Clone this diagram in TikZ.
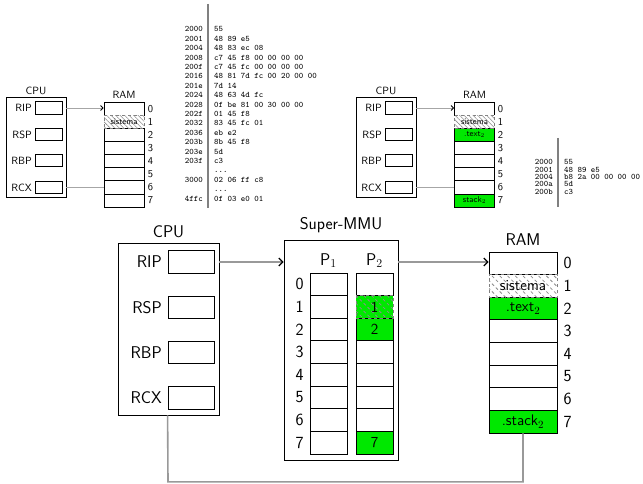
\documentclass[tikz,border=0pt]{standalone}
\usepackage{fontspec}
\usetikzlibrary{arrows.meta,patterns.meta}
\definecolor{cellgreen}{RGB}{0,232,0}
\begin{document}
\begin{tikzpicture}[x=1pt,y=-1pt,
  every node/.style={font=\sffamily},
  % small diagrams
  sfont/.style={font=\fontsize{10.5}{12}\selectfont\sffamily},
  sbox/.style={draw=black, line width=0.7pt, inner sep=0pt},
  sreg/.style={draw=black, line width=0.7pt, minimum width=27pt, minimum height=12.5pt, inner sep=0pt},
  scell/.style={draw=black, line width=0.7pt, minimum width=40pt, minimum height=13.125pt, inner sep=0pt, font=\fontsize{8.5}{9}\selectfont\sffamily},
  shatch/.style={draw=gray, dashed, fill=white, postaction={pattern={Lines[angle=-45,distance=3.2pt,line width=0.55pt]}, pattern color=gray!90}},
  sconn/.style={draw=gray!70, line width=0.9pt},
  sarrow/.style={sconn, -{Straight Barb[length=2.5pt,width=5pt,color=black]}},
  % main diagram
  mfont/.style={font=\fontsize{17}{19}\selectfont\sffamily},
  mbox/.style={draw=black, line width=0.8pt, inner sep=0pt},
  mreg/.style={draw=black, line width=0.8pt, minimum width=46pt, minimum height=22.5pt, inner sep=0pt},
  mcell/.style={draw=black, line width=0.8pt, minimum width=68pt, minimum height=22.625pt, inner sep=0pt, font=\fontsize{15.3}{16}\selectfont\sffamily},
  pcell/.style={mcell, minimum width=37pt},
  mhatch/.style={draw=gray, dashed, postaction={pattern={Lines[angle=-45,distance=5.5pt,line width=0.75pt]}, pattern color=gray!90}},
  gfill/.style={fill=cellgreen},
  mconn/.style={draw=gray!80, line width=1.6pt},
  marrow/.style={mconn, -{Straight Barb[length=4pt,width=8pt,color=black,line width=1.2pt]}},
  lst/.style={inner sep=0pt, font=\fontsize{8.4}{9.4}\selectfont\ttfamily},
  lstr/.style={inner sep=0pt, font=\fontsize{8.4}{7.3}\selectfont\ttfamily},
  lrule/.style={draw=gray, line width=1.2pt}
]
\useasboundingbox (0,0) rectangle (643,484);

% ================= small left diagram =================
\node[sfont] (scpuT) at (36,90.5) {CPU};
\node[sbox, minimum width=60pt, minimum height=100pt] (scpu) at (36,147) {};
\node[sreg] (srip) at (48.5,108) {};
\node[sreg] (srsp) at (48.5,134.5) {};
\node[sreg] (srbp) at (48.5,160.5) {};
\node[sreg] (srcx) at (48.5,187.5) {};
\node[sfont, anchor=east, inner sep=0pt] (sripL) at (32,108) {RIP};
\node[sfont, anchor=east, inner sep=0pt] (srspL) at (32,134.5) {RSP};
\node[sfont, anchor=east, inner sep=0pt] (srbpL) at (32,160.5) {RBP};
\node[sfont, anchor=east, inner sep=0pt] (srcxL) at (32,187.5) {RCX};

\node[sfont] (sramT) at (124,95) {RAM};
\node[scell] (sr0) at (124,108.56) {};
\node[scell] (sr2) at (124,134.81) {};
\node[scell] (sr3) at (124,147.94) {};
\node[scell] (sr4) at (124,161.06) {};
\node[scell] (sr5) at (124,174.19) {};
\node[scell] (sr6) at (124,187.31) {};
\node[scell] (sr7) at (124,200.44) {};
\node[scell, shatch] (sr1) at (124,121.69) {sistema};
\node[sfont] (sn0) at (150.5,108.56) {0};
\node[sfont] (sn1) at (150.5,121.69) {1};
\node[sfont] (sn2) at (150.5,134.81) {2};
\node[sfont] (sn3) at (150.5,147.94) {3};
\node[sfont] (sn4) at (150.5,161.06) {4};
\node[sfont] (sn5) at (150.5,174.19) {5};
\node[sfont] (sn6) at (150.5,187.31) {6};
\node[sfont] (sn7) at (150.5,200.44) {7};

\draw[sarrow] (scpu.east |- srip) -- (srip -| sr0.west);
\draw[sconn] (scpu.east |- srcx) -- (srcx -| sr6.west);

% listing left
\coordinate (ltop) at (208,4);
\coordinate (lbot) at (208,208);
\draw[lrule] (ltop) -- (lbot);
\node[lst, anchor=north east, align=right] (laddr) at (203,26.5)
  {2000\\2001\\2004\\2008\\200f\\2016\\201e\\2024\\2028\\202f\\2032\\2036\\203b\\203e\\203f\\\phantom{0}\\3000\\\phantom{0}\\4ffc};
\node[lst, anchor=north west, align=left] (lval) at (214,26.5)
  {55\\48 89 e5\\48 83 ec 08\\c7 45 f8 00 00 00 00\\c7 45 fc 00 00 00 00\\48 81 7d fc 00 20 00 00\\7d 14\\48 63 4d fc\\0f be 81 00 30 00 00\\01 45 f8\\83 45 fc 01\\eb e2\\8b 45 f8\\5d\\c3\\...\\02 06 ff c8\\...\\0f 03 e0 01};

% ================= small right diagram =================
\node[sfont] (tcpuT) at (386,90.5) {CPU};
\node[sbox, minimum width=60pt, minimum height=100pt] (tcpu) at (386,147) {};
\node[sreg] (trip) at (398.5,108) {};
\node[sreg] (trsp) at (398.5,134.5) {};
\node[sreg] (trbp) at (398.5,160.5) {};
\node[sreg] (trcx) at (398.5,187.5) {};
\node[sfont, anchor=east, inner sep=0pt] (tripL) at (382,108) {RIP};
\node[sfont, anchor=east, inner sep=0pt] (trspL) at (382,134.5) {RSP};
\node[sfont, anchor=east, inner sep=0pt] (trbpL) at (382,160.5) {RBP};
\node[sfont, anchor=east, inner sep=0pt] (trcxL) at (382,187.5) {RCX};

\node[sfont] (tramT) at (474.5,95) {RAM};
\node[scell] (tr0) at (474.5,108.56) {};
\node[scell, gfill] (tr2) at (474.5,134.81) {.text$_2$};
\node[scell] (tr3) at (474.5,147.94) {};
\node[scell] (tr4) at (474.5,161.06) {};
\node[scell] (tr5) at (474.5,174.19) {};
\node[scell] (tr6) at (474.5,187.31) {};
\node[scell, gfill] (tr7) at (474.5,200.44) {stack$_2$};
\node[scell, shatch] (tr1) at (474.5,121.69) {sistema};
\node[sfont] (tn0) at (500.5,108.56) {0};
\node[sfont] (tn1) at (500.5,121.69) {1};
\node[sfont] (tn2) at (500.5,134.81) {2};
\node[sfont] (tn3) at (500.5,147.94) {3};
\node[sfont] (tn4) at (500.5,161.06) {4};
\node[sfont] (tn5) at (500.5,174.19) {5};
\node[sfont] (tn6) at (500.5,187.31) {6};
\node[sfont] (tn7) at (500.5,200.44) {7};

\draw[sarrow] (tcpu.east |- trip) -- (trip -| tr0.west);
\draw[sconn] (tcpu.east |- trcx) -- (trcx -| tr6.west);

% listing right
\coordinate (rtop) at (558,138);
\coordinate (rbot) at (558,207);
\draw[lrule] (rtop) -- (rbot);
\node[lstr, anchor=north east, align=right] (raddr) at (553,159.5)
  {2000\\2001\\2004\\200a\\200b};
\node[lstr, anchor=north west, align=left] (rval) at (564,159.5)
  {55\\48 89 e5\\b8 2a 00 00 00 00\\5d\\c3};

% ================= main diagram =================
\node[mfont] (mcpuT) at (168.5,232) {CPU};
\node[mbox, minimum width=101pt, minimum height=172pt] (mcpu) at (168.5,329) {};
\node[mreg] (mrip) at (191,262) {};
\node[mreg] (mrsp) at (191,307.5) {};
\node[mreg] (mrbp) at (191,352.5) {};
\node[mreg] (mrcx) at (191,398) {};
\node[mfont, anchor=east, inner sep=0pt] (mripL) at (162,262) {RIP};
\node[mfont, anchor=east, inner sep=0pt] (mrspL) at (162,307.5) {RSP};
\node[mfont, anchor=east, inner sep=0pt] (mrbpL) at (162,352.5) {RBP};
\node[mfont, anchor=east, inner sep=0pt] (mrcxL) at (162,398) {RCX};

% Super-MMU
\node[mfont] (mmuT) at (341,225.5) {Super-MMU};
\node[mbox, minimum width=114pt, minimum height=220pt] (mmu) at (341,350) {};
\node[mfont, anchor=base] (p1L) at (328.5,265) {P$_1$};
\node[mfont, anchor=base] (p2L) at (374.5,265) {P$_2$};
\foreach \i/\y in {0/284.31,1/306.94,2/329.56,3/352.19,4/374.81,5/397.44,6/420.06,7/442.69}{
  \node[pcell] (pa\i) at (328.5,\y) {};
  \node[mfont] (pn\i) at (299.5,\y) {\i};
}
\node[pcell] (pb0) at (374.5,284.31) {};
\node[pcell, gfill] (pb2) at (374.5,329.56) {2};
\node[pcell] (pb3) at (374.5,352.19) {};
\node[pcell] (pb4) at (374.5,374.81) {};
\node[pcell] (pb5) at (374.5,397.44) {};
\node[pcell] (pb6) at (374.5,420.06) {};
\node[pcell, gfill] (pb7) at (374.5,442.69) {7};
\node[pcell, gfill, mhatch] (pb1) at (374.5,306.94) {1};

% RAM
\node[mfont] (mramT) at (523,239.5) {RAM};
\node[mcell] (mr0) at (523,263.31) {};
\node[mcell, gfill] (mr2) at (523,308.56) {.text$_2$};
\node[mcell] (mr3) at (523,331.19) {};
\node[mcell] (mr4) at (523,353.81) {};
\node[mcell] (mr5) at (523,376.44) {};
\node[mcell] (mr6) at (523,399.06) {};
\node[mcell, gfill] (mr7) at (523,421.69) {.stack$_2$};
\node[mcell, fill=white, mhatch] (mr1) at (523,285.94) {sistema};
\foreach \i/\y in {0/263.31,1/285.94,2/308.56,3/331.19,4/353.81,5/376.44,6/399.06,7/421.69}{
  \node[mfont] (mn\i) at (567.5,\y) {\i};
}

% connectors
\draw[marrow] (mcpu.east |- mrip) -- (mmu.west |- mrip);
\draw[marrow] (mmu.east |- mrip) -- (mrip -| mr0.west);
\coordinate (mbl) at (168,481.8);
\draw[mconn] (mcpu.south -| mrcx.west) -- (mbl) -| (mr7.south);
\end{tikzpicture}
\end{document}
